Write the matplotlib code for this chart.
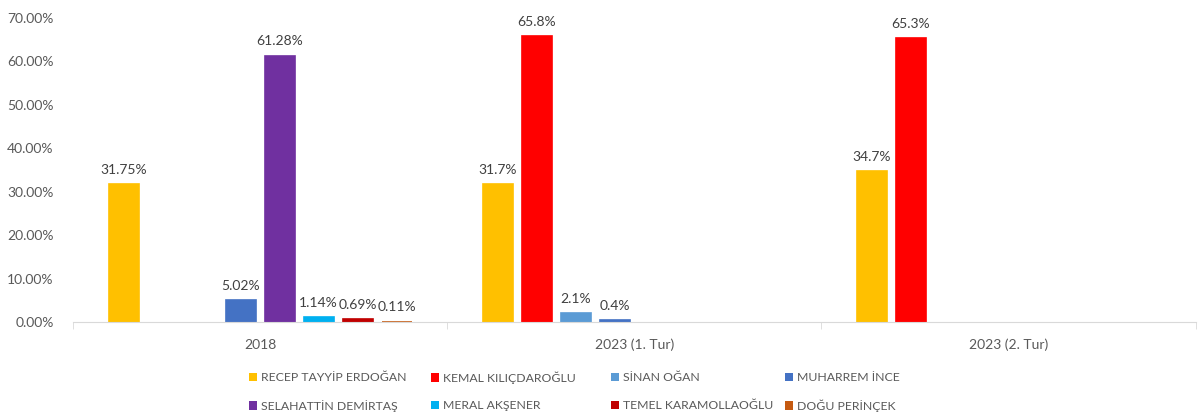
import matplotlib.pyplot as plt
import numpy as np
from matplotlib.patches import Patch
from matplotlib.ticker import FuncFormatter

plt.rcParams['font.family'] = ['Lato', 'DejaVu Sans']

# Election rounds and candidates
rounds = ["2018", "2023 (1. Tur)", "2023 (2. Tur)"]
candidates = ["RECEP TAYYİP ERDOĞAN", "KEMAL KILIÇDAROĞLU", "SİNAN OĞAN", "MUHARREM İNCE",
              "SELAHATTİN DEMİRTAŞ", "MERAL AKŞENER", "TEMEL KARAMOLLAOĞLU", "DOĞU PERİNÇEK"]
colors = ["#FFC000", "#FF0000", "#5B9BD5", "#4472C4",
          "#7030A0", "#00B0F0", "#C00000", "#C55A11"]

# vote share (%) per candidate, one entry per round; None = not a candidate
erdogan = [31.75, 31.7, 34.7]
kilicdaroglu = [None, 65.8, 65.3]
ogan = [None, 2.1, None]
ince = [5.02, 0.4, None]
demirtas = [61.28, None, None]
aksener = [1.14, None, None]
karamollaoglu = [0.69, None, None]
perincek = [0.11, None, None]
series = [erdogan, kilicdaroglu, ogan, ince, demirtas, aksener, karamollaoglu, perincek]

# labels as shown on the chart (2018 uses two decimals)
label_fmt = ["{:.2f}%", "{:.1f}%", "{:.1f}%"]

fig = plt.figure(figsize=(11.98, 4.16), dpi=100)
ax = fig.add_axes([0.061, 0.226, 0.937, 0.731])

x = np.arange(len(rounds))
slot = 0.1043
width = 0.08
text_color = "#595959"

for i, (vals, col) in enumerate(zip(series, colors)):
    for j, v in enumerate(vals):
        if v is None:
            continue
        xpos = x[j] + (i - 3.5) * slot
        ax.bar(xpos, v, width=width, color=col, edgecolor=col, linewidth=1.2)
        ax.annotate(label_fmt[j].format(v), (xpos, v), xytext=(0, 6),
                    textcoords="offset points", ha="center", va="bottom",
                    fontsize=10, color="#404040")

ax.set_xlim(-0.5, 2.5)
ax.set_ylim(0, 70)
ax.set_yticks(np.arange(0, 71, 10))
ax.yaxis.set_major_formatter(FuncFormatter(lambda v, p: f"{v:.2f}%"))
ax.set_xticks(x)
ax.set_xticklabels(rounds)
ax.set_xticks([-0.5, 0.5, 1.5, 2.5], minor=True)
ax.tick_params(axis="x", which="major", length=0, pad=12, labelsize=10, labelcolor=text_color)
ax.tick_params(axis="x", which="minor", length=5, color="#D9D9D9")
ax.tick_params(axis="y", length=0, pad=14, labelsize=10, labelcolor=text_color)

for s in ["top", "right", "left"]:
    ax.spines[s].set_visible(False)
ax.spines["bottom"].set_color("#D9D9D9")

# legend laid out in four fixed-width columns, like the original
leg_cols = [0.2087, 0.3606, 0.5109, 0.6561]
leg_rows = [0.092, 0.025]
for k, (name, col) in enumerate(zip(candidates, colors)):
    r, c = divmod(k, 4)
    leg = fig.legend([Patch(facecolor=col)], [name], loc="center left",
                     bbox_to_anchor=(leg_cols[c] - 0.001, leg_rows[r]), frameon=False,
                     fontsize=8.8, handlelength=0.7, handleheight=0.7, handletextpad=0.3,
                     borderpad=0, borderaxespad=0, labelcolor=text_color)

fig.savefig("out.png", dpi=100)
